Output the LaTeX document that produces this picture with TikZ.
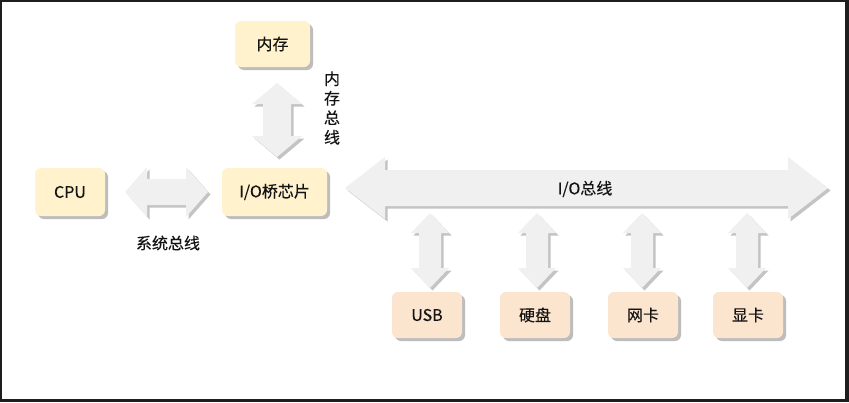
\documentclass[tikz,border=0pt]{standalone}
\usepackage{fontspec}
\setmainfont{Noto Sans CJK SC}[FakeBold=0.3]
\usetikzlibrary{shadows}
\definecolor{frame}{HTML}{1E1E1E}
\definecolor{boxY}{HTML}{FFF2CC}
\definecolor{boxP}{HTML}{FCE5CF}
\definecolor{shd}{HTML}{BDBDBD}
\definecolor{arrF}{HTML}{F0F0F0}
\definecolor{arrS}{HTML}{C4C4C4}
\definecolor{txt}{HTML}{141414}
\tikzset{
  unit/.style={rounded corners=6pt, minimum height=46pt, minimum width=70pt,
    font=\fontsize{16}{19}\selectfont, text=txt,
    drop shadow={shadow xshift=3pt, shadow yshift=-3pt, fill=shd, opacity=1}},
  ybox/.style={unit, fill=boxY},
  pbox/.style={unit, fill=boxP},
  lbl/.style={font=\fontsize{16}{19.5}\selectfont, text=txt, align=center},
}
% horizontal double arrow: x1 x2 yc halfshaft halfhead headlen
\newcommand\hdarr[6]{%
  \foreach \c/\s in {arrS/2.5,arrF/0}{
    \fill[fill=\c, shift={(\s,\s)}] (#1,#3) -- (#1+#6,#3-#5) -- (#1+#6,#3-#4) -- (#2-#6,#3-#4) -- (#2-#6,#3-#5) -- (#2,#3) -- (#2-#6,#3+#5) -- (#2-#6,#3+#4) -- (#1+#6,#3+#4) -- (#1+#6,#3+#5) -- cycle;
  }}
% vertical double arrow: y1 y2 xc halfshaft halfhead headlen
\newcommand\vdarr[6]{%
  \foreach \c/\s in {arrS/2.5,arrF/0}{
    \fill[fill=\c, shift={(\s,\s)}] (#3,#1) -- (#3+#5,#1+#6) -- (#3+#4,#1+#6) -- (#3+#4,#2-#6) -- (#3+#5,#2-#6) -- (#3,#2) -- (#3-#5,#2-#6) -- (#3-#4,#2-#6) -- (#3-#4,#1+#6) -- (#3-#5,#1+#6) -- cycle;
  }}
\begin{document}
\begin{tikzpicture}[x=1pt,y=-1pt]
\useasboundingbox (0,0) rectangle (849,402);
\fill[frame] (0,0) rectangle (849,402);
\fill[white] (2,2) rectangle (845,399);

% arrows (buses)
\vdarr{83}{157}{277}{14}{25}{21}
\hdarr{125}{208}{192}{13}{25}{22}
\hdarr{345}{828}{188}{18}{31}{40}
\vdarr{213}{288}{430}{11}{19}{20}
\vdarr{213}{288}{537}{11}{19}{20}
\vdarr{213}{288}{642}{11}{19}{20}
\vdarr{213}{288}{747}{11}{19}{20}

% units
\node[ybox, minimum width=75pt] (mem) at (272.5,44) {内存};
\node[ybox, minimum height=48pt] (cpu) at (70,192) {CPU};
\node[ybox, minimum width=105pt, minimum height=48pt] (io) at (274.5,192) {I/O桥芯片};
\node[pbox] (usb) at (427,315) {USB};
\node[pbox] (hdd) at (535,315) {硬盘};
\node[pbox] (nic) at (643,315) {网卡};
\node[pbox] (gpu) at (748,315) {显卡};

% labels
\node[lbl] (membus) at (332,108) {内\\存\\总\\线};
\node[lbl] (sysbus) at (168,243) {系统总线};
\node[lbl] (iobus) at (585,189) {I/O总线};
\end{tikzpicture}
\end{document}
